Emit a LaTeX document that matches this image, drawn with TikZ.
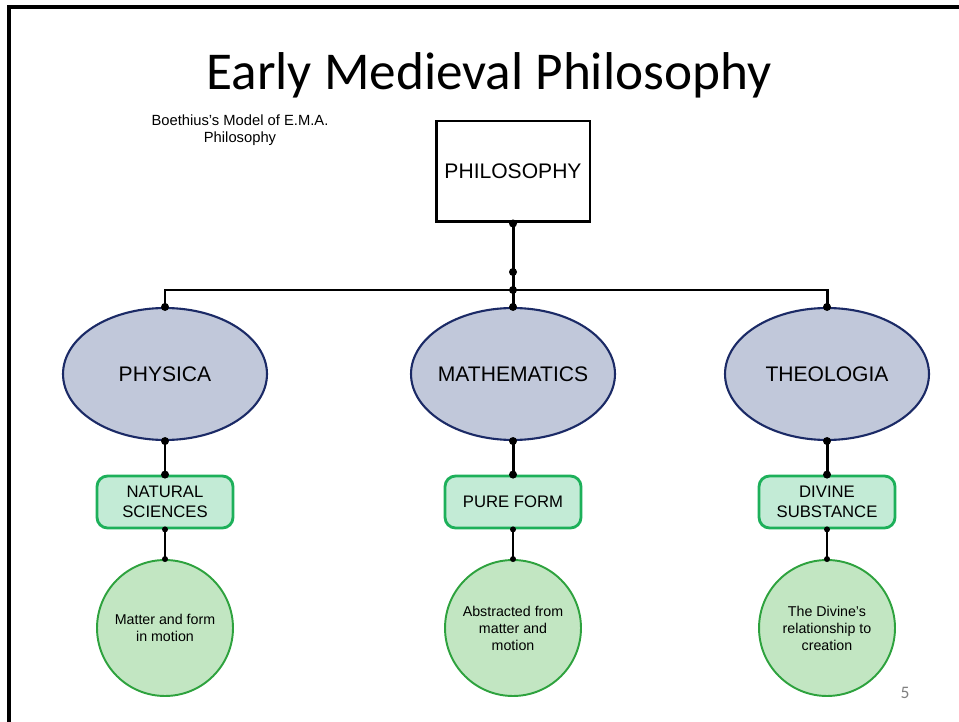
\documentclass[tikz,border=0pt]{standalone}
\usepackage{fontspec}
\setmainfont{Liberation Sans}
\newfontfamily\titlefont{Carlito}
\usetikzlibrary{shapes.geometric, positioning}

\definecolor{ovalfill}{HTML}{C1C8DA}
\definecolor{ovalline}{HTML}{1B2A66}
\definecolor{boxfill}{HTML}{C3EBD6}
\definecolor{boxline}{HTML}{1DB05A}
\definecolor{discfill}{HTML}{C2E6C2}
\definecolor{discline}{HTML}{2EA23E}

\begin{document}
\begin{tikzpicture}[
    x=0.02cm, y=-0.02cm,
    root/.style={rectangle, draw, line width=1.7pt, minimum width=3.08cm, minimum height=2.02cm, font=\fontsize{12}{14}\selectfont},
    branch/.style={ellipse, draw=ovalline, fill=ovalfill, line width=1.2pt, inner sep=0pt, minimum width=4.08cm, minimum height=2.64cm, font=\fontsize{12}{14}\selectfont},
    field/.style={rectangle, rounded corners=6pt, draw=boxline, fill=boxfill, line width=1.6pt, minimum width=2.72cm, minimum height=1.04cm, align=center, font=\fontsize{9.5}{11}\selectfont},
    topic/.style={circle, draw=discline, fill=discfill, line width=1.1pt, minimum size=2.72cm, inner sep=0pt, align=center, font=\fontsize{8.1}{9.7}\selectfont},
    link/.style={line width=1.7pt},
    sublink/.style={line width=0.8pt},
    dot/.style={circle, fill=black, inner sep=0pt, minimum size=0.16cm},
]
\useasboundingbox (0,0) rectangle (959,722);

% slide frame
\draw[line width=1.8pt] (9,722) -- (9,7) -- (959,7);

\node[font=\titlefont\fontsize{30.3}{36}\selectfont] (title) at (489,75) {Early Medieval Philosophy};
\node[align=center, font=\fontsize{8.4}{10}\selectfont] (model) at (240,130) {Boethius's Model of E.M.A.\\Philosophy};
\node[font=\titlefont\fontsize{10}{12}\selectfont, text=gray] (page) at (905,693) {5};

\node[root] (phil) at (513,171.5) {PHILOSOPHY};

\node[branch] (phys) at (165,374) {\makebox[0pt]{PHYSICA}};
\node[branch] (math) at (513,374) {\makebox[0pt]{MATHEMATICS}};
\node[branch] (theo) at (827,374) {\makebox[0pt]{THEOLOGIA}};

\node[field] (natsci) at (165,502) {NATURAL\\SCIENCES};
\node[field] (pure) at (513,502) {PURE FORM};
\node[field] (divine) at (827,502) {DIVINE\\SUBSTANCE};

\node[topic] (matter) at (165,628) {Matter and form\\in motion};
\node[topic] (abstr) at (513,628) {Abstracted from\\matter and\\motion};
\node[topic] (relat) at (827,628) {The Divine's\\relationship to\\creation};

\coordinate (mid) at (513,272);
\coordinate (hub) at (513,290);

\draw[link] (phil.south) -- (hub);
\draw[link] (hub) -- (math.north);
\draw[link] (hub) -| (phys.north);
\draw[link] (hub) -| (theo.north);

\foreach \up/\down in {phys/natsci, math/pure, theo/divine} {
    \draw[link] (\up.south) -- (\down.north);
    \node[dot] at (\up.south) {};
    \node[dot] at (\down.north) {};
    \node[dot] at (\up.north) {};
}
\foreach \up/\down in {natsci/matter, pure/abstr, divine/relat} {
    \draw[sublink] (\up.south) -- (\down.north);
    \node[dot, minimum size=0.12cm] at (\up.south) {};
    \node[dot, minimum size=0.12cm] at (\down.north) {};
}
\node[dot] at (phil.south) {};
\node[dot] at (mid) {};
\node[dot] at (hub) {};

\end{tikzpicture}
\end{document}
